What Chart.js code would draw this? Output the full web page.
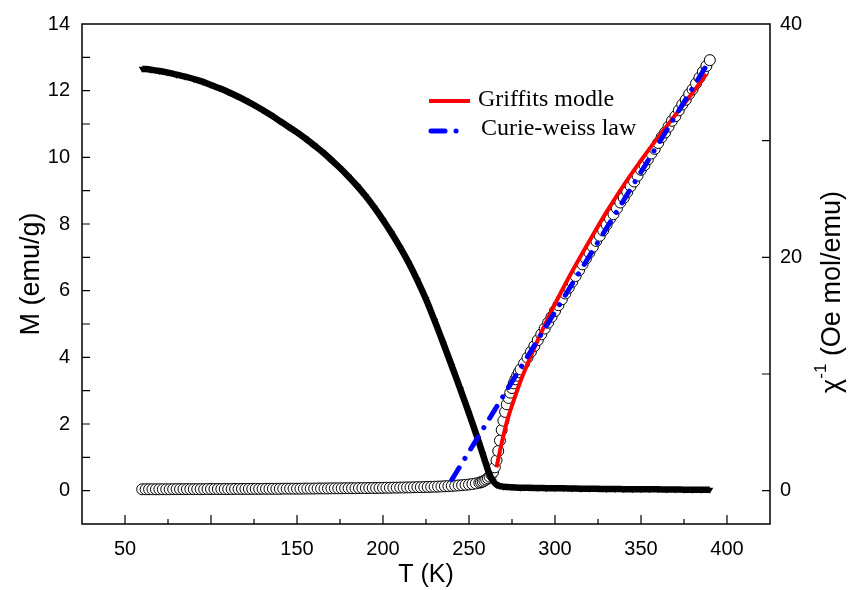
<!DOCTYPE html>
<html>
<head>
<meta charset="utf-8">
<title>M and inverse susceptibility vs T</title>
<script src="https://cdn.jsdelivr.net/npm/chart.js@4.4.1/dist/chart.umd.min.js"></script>
<style>
    html, body { margin: 0; padding: 0; background: #fff; }
    #wrap { width: 859px; height: 590px; }
</style>
</head>
<body>
<div id="wrap"><canvas id="chart" width="859" height="590"></canvas></div>
<script>
// M (emu/g) vs T (K), filled down-triangles
const tempM = [60, 65, 70, 75, 80, 85, 90, 95, 100, 105, 110, 115, 120, 125, 130, 135, 140, 145, 150, 155,
    160, 165, 170, 175, 180, 185, 190, 195, 200, 205, 210, 215, 220, 225, 230, 235, 240, 245, 250, 255,
    258, 260, 262, 264, 266, 268, 270, 275, 280, 285, 290, 295, 300, 305, 310, 315, 320, 325, 330, 335,
    340, 345, 350, 355, 360, 365, 370, 375, 380, 385, 390];
const magM = [12.66, 12.63, 12.59, 12.54, 12.48, 12.42, 12.35, 12.27, 12.17, 12.07, 11.96, 11.84, 11.71, 11.57, 11.42, 11.26, 11.09, 10.92, 10.75, 10.56,
    10.36, 10.15, 9.92, 9.68, 9.42, 9.14, 8.83, 8.49, 8.12, 7.72, 7.29, 6.83, 6.31, 5.74, 5.10, 4.43, 3.74, 3.04, 2.32, 1.57,
    1.10, 0.78, 0.48, 0.29, 0.18, 0.14, 0.12, 0.10, 0.09, 0.085, 0.08, 0.075, 0.07, 0.07, 0.065, 0.06, 0.06, 0.055, 0.05, 0.05,
    0.045, 0.045, 0.04, 0.04, 0.04, 0.035, 0.035, 0.03, 0.03, 0.03, 0.03];

// inverse susceptibility (Oe mol/emu), open circles
const tempChi = [60, 62, 64, 66, 68, 70, 72, 74, 76, 78, 80, 82, 84, 86, 88, 90, 92, 94, 96, 98,
    100, 102, 104, 106, 108, 110, 112, 114, 116, 118, 120, 122, 124, 126, 128, 130, 132, 134, 136, 138,
    140, 142, 144, 146, 148, 150, 152, 154, 156, 158, 160, 162, 164, 166, 168, 170, 172, 174, 176, 178,
    180, 182, 184, 186, 188, 190, 192, 194, 196, 198, 200, 202, 204, 206, 208, 210, 212, 214, 216, 218,
    220, 222, 224, 226, 228, 230, 232, 234, 236, 238, 240, 242, 244, 246, 248, 250, 252, 254, 256,
    257, 258, 259, 260, 261, 262, 263, 264, 265, 266, 267, 268, 269, 270, 271, 272, 273, 274, 275, 276,
    277, 278, 279, 280,
    282, 284, 286, 288, 290, 292, 294, 296, 298, 300, 302, 304, 306, 308, 310, 312, 314, 316, 318, 320,
    322, 324, 326, 328, 330, 332, 334, 336, 338, 340, 342, 344, 346, 348, 350, 352, 354, 356, 358, 360,
    362, 364, 366, 368, 370, 372, 374, 376, 378, 380, 382, 384, 386, 388, 390];
const chiInv = [0.12, 0.12, 0.12, 0.12, 0.12, 0.12, 0.12, 0.12, 0.12, 0.13, 0.13, 0.13, 0.13, 0.13, 0.13, 0.13, 0.13, 0.13, 0.13, 0.14,
    0.14, 0.14, 0.14, 0.14, 0.14, 0.14, 0.14, 0.15, 0.15, 0.15, 0.15, 0.15, 0.15, 0.15, 0.15, 0.16, 0.16, 0.16, 0.16, 0.16,
    0.16, 0.17, 0.17, 0.17, 0.17, 0.17, 0.17, 0.18, 0.18, 0.18, 0.18, 0.19, 0.19, 0.19, 0.19, 0.20, 0.20, 0.20, 0.20, 0.21,
    0.21, 0.21, 0.21, 0.22, 0.22, 0.22, 0.23, 0.23, 0.23, 0.24, 0.24, 0.25, 0.25, 0.26, 0.26, 0.27, 0.27, 0.28, 0.28, 0.29,
    0.30, 0.30, 0.31, 0.32, 0.33, 0.34, 0.35, 0.36, 0.38, 0.39, 0.41, 0.43, 0.45, 0.47, 0.50, 0.53, 0.57, 0.62, 0.68,
    0.73, 0.78, 0.86, 0.95, 1.06, 1.2, 1.38, 1.6, 2.0, 2.6, 3.4, 4.3, 5.2, 6.0, 6.75, 7.4, 7.95, 8.4, 8.8, 9.2,
    9.55, 9.85, 10.15, 10.4,
    10.9, 11.4, 11.9, 12.4, 12.9, 13.4, 13.9, 14.4, 14.9, 15.4, 15.9, 16.4, 16.9, 17.4, 17.9, 18.4, 18.9, 19.4, 19.9, 20.4,
    20.9, 21.4, 21.85, 22.3, 22.8, 23.3, 23.7, 24.2, 24.7, 25.1, 25.6, 26.1, 26.5, 27.0, 27.5, 27.9, 28.4, 28.9, 29.3, 29.8,
    30.3, 30.7, 31.2, 31.7, 32.1, 32.6, 33.1, 33.5, 34.0, 34.4, 34.9, 35.4, 35.9, 36.4, 36.9];

// Griffiths model fit (red)
const tempGriffiths = [266, 268, 270, 272, 275, 280, 285, 290, 295, 300, 310, 320, 330, 340, 350, 360, 370, 380, 388];
const chiGriffiths = [2.0, 3.4, 4.7, 5.9, 7.3, 9.4, 11.2, 12.9, 14.5, 16.0, 18.8, 21.4, 23.9, 26.2, 28.3, 30.3, 32.2, 34.1, 35.7];

// Curie-Weiss law (blue dash-dot)
const tempCurie = [240, 390];
const chiCurie = [0.94, 36.9];

// axis ticks
const xTickMarks = [50, 75, 100, 125, 150, 175, 200, 225, 250, 275, 300, 325, 350, 375, 400];
const xTickLabels = [50, 150, 200, 250, 300, 350, 400];
const mTickMarks = [0, 1, 2, 3, 4, 5, 6, 7, 8, 9, 10, 11, 12, 13];
const mTickLabels = [0, 2, 4, 6, 8, 10, 12, 14];
const chiTickMarks = [0, 10, 20, 30];
const chiTickLabels = [0, 20, 40];

const legendItems = ['Griffits modle', 'Curie-weiss law'];

const toPoints = (xs, ys) => xs.map((x, i) => ({ x: x, y: ys[i] }));

const SANS = "'Liberation Sans', Arial, sans-serif";
const SERIF = "'Liberation Serif', 'Times New Roman', serif";

const frameAndTicks = {
    id: 'frameAndTicks',
    afterDraw(chart) {
        const { ctx, chartArea: a, scales } = chart;
        ctx.save();
        ctx.strokeStyle = '#000';
        ctx.lineWidth = 1.5;
        ctx.strokeRect(a.left, a.top, a.right - a.left, a.bottom - a.top);

        ctx.lineWidth = 1.2;
        ctx.beginPath();
        xTickMarks.forEach(v => {
            const p = scales.x.getPixelForValue(v);
            const len = v % 50 === 0 ? 9 : 5;
            ctx.moveTo(p, a.bottom);
            ctx.lineTo(p, a.bottom - len);
        });
        mTickMarks.forEach(v => {
            const p = scales.yM.getPixelForValue(v);
            ctx.moveTo(a.left, p);
            ctx.lineTo(a.left + 8, p);
        });
        chiTickMarks.forEach(v => {
            const p = scales.yChi.getPixelForValue(v);
            ctx.moveTo(a.right, p);
            ctx.lineTo(a.right - 8, p);
        });
        ctx.stroke();

        // legend
        ctx.lineCap = 'butt';
        ctx.strokeStyle = '#ff0000';
        ctx.lineWidth = 4;
        ctx.beginPath();
        ctx.moveTo(429, 101);
        ctx.lineTo(470, 101);
        ctx.stroke();

        ctx.strokeStyle = '#0000ff';
        ctx.lineWidth = 5;
        ctx.lineCap = 'round';
        ctx.setLineDash([14, 11, 0.1, 11]);
        ctx.beginPath();
        ctx.moveTo(431, 131);
        ctx.lineTo(466, 131);
        ctx.stroke();
        ctx.setLineDash([]);

        ctx.fillStyle = '#000';
        ctx.font = '24px ' + SERIF;
        ctx.textBaseline = 'middle';
        ctx.textAlign = 'left';
        ctx.fillText(legendItems[0], 478, 100);
        ctx.fillText(legendItems[1], 481, 129);

        // right axis title, reading bottom to top
        ctx.translate(chart.width - 29, 292);
        ctx.rotate(-Math.PI / 2);
        const mainFont = '27px ' + SANS;
        const supFont = '17px ' + SANS;
        ctx.font = mainFont;
        const w1 = ctx.measureText('\u03c7').width;
        const w3 = ctx.measureText(' (Oe mol/emu)').width;
        ctx.font = supFont;
        const w2 = ctx.measureText('-1').width;
        const x0 = -(w1 + w2 + w3) / 2;
        ctx.textBaseline = 'alphabetic';
        ctx.font = mainFont;
        ctx.fillText('\u03c7', x0, 10);
        ctx.font = supFont;
        ctx.fillText('-1', x0 + w1, -4);
        ctx.font = mainFont;
        ctx.fillText(' (Oe mol/emu)', x0 + w1 + w2, 10);
        ctx.restore();
    }
};

new Chart(document.getElementById('chart'), {
    type: 'line',
    data: {
        datasets: [
            {
                label: legendItems[1],
                data: toPoints(tempCurie, chiCurie),
                yAxisID: 'yChi',
                borderColor: '#0000ff',
                borderWidth: 5,
                borderDash: [14, 11, 0.1, 11],
                borderCapStyle: 'round',
                pointRadius: 0,
                order: 0
            },
            {
                label: legendItems[0],
                data: toPoints(tempGriffiths, chiGriffiths),
                yAxisID: 'yChi',
                borderColor: '#ff0000',
                borderWidth: 4,
                pointRadius: 0,
                tension: 0.4,
                order: 1
            },
            {
                label: 'M',
                data: toPoints(tempM, magM),
                yAxisID: 'yM',
                borderColor: '#000',
                borderWidth: 6.5,
                backgroundColor: '#000',
                tension: 0.4,
                pointStyle: 'triangle',
                pointRotation: 180,
                pointRadius: 4,
                pointBorderWidth: 0,
                pointBackgroundColor: '#000',
                order: 2
            },
            {
                label: 'chi inverse',
                data: toPoints(tempChi, chiInv),
                yAxisID: 'yChi',
                showLine: false,
                pointStyle: 'circle',
                pointRadius: 5.5,
                pointBorderWidth: 1,
                pointBorderColor: '#000',
                pointBackgroundColor: '#fff',
                order: 3
            }
        ]
    },
    options: {
        responsive: false,
        animation: false,
        events: [],
        layout: { padding: { top: 22, left: 0, right: 0, bottom: 0 } },
        plugins: {
            legend: { display: false },
            tooltip: { enabled: false }
        },
        scales: {
            x: {
                type: 'linear',
                min: 25,
                max: 425,
                afterFit: s => { s.height = 66; },
                border: { display: false },
                grid: { display: false, drawTicks: false },
                ticks: {
                    stepSize: 25,
                    autoSkip: false,
                    maxRotation: 0,
                    padding: 13,
                    color: '#000',
                    font: { family: SANS, size: 20 },
                    callback: v => xTickLabels.includes(v) ? String(v) : ''
                },
                title: {
                    display: true,
                    text: 'T (K)',
                    color: '#000',
                    font: { family: SANS, size: 25 },
                    padding: { top: 0, bottom: 0 }
                }
            },
            yM: {
                type: 'linear',
                position: 'left',
                min: -1,
                max: 14,
                afterFit: s => { s.width = 82; },
                border: { display: false },
                grid: { display: false, drawTicks: false },
                ticks: {
                    stepSize: 1,
                    autoSkip: false,
                    padding: 12,
                    color: '#000',
                    font: { family: SANS, size: 20 },
                    callback: v => mTickLabels.includes(v) ? String(v) : ''
                },
                title: {
                    display: true,
                    text: 'M (emu/g)',
                    color: '#000',
                    font: { family: SANS, size: 27 },
                    padding: { top: 15, bottom: 0 }
                }
            },
            yChi: {
                type: 'linear',
                position: 'right',
                min: -40 / 14,
                max: 40,
                afterFit: s => { s.width = 89; },
                border: { display: false },
                grid: { display: false, drawTicks: false },
                ticks: {
                    stepSize: 10,
                    autoSkip: false,
                    padding: 10,
                    color: '#000',
                    font: { family: SANS, size: 20 },
                    callback: v => chiTickLabels.includes(v) ? String(v) : ''
                }
            }
        }
    },
    plugins: [frameAndTicks]
});
</script>
</body>
</html>
